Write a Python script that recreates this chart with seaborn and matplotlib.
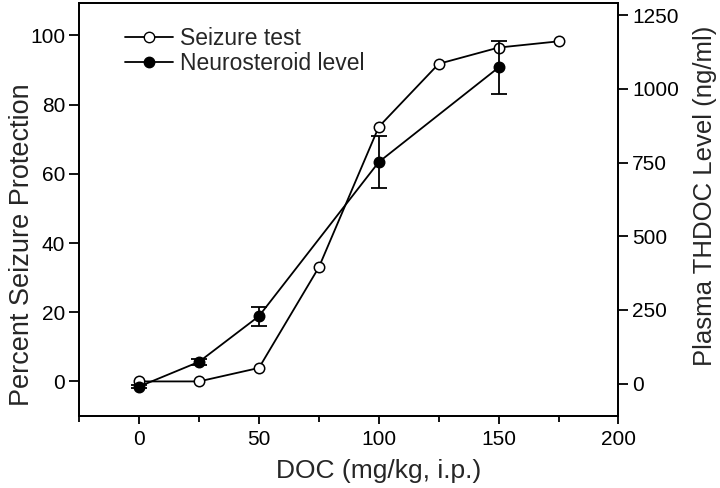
import matplotlib
matplotlib.use("Agg")
import matplotlib.pyplot as plt
import seaborn as sns
import pandas as pd
from matplotlib.lines import Line2D
from matplotlib.ticker import MultipleLocator

sns.set_style("ticks")
plt.rcParams['font.family'] = ['Liberation Sans', 'DejaVu Sans']

# Data
seizure_dose = [0, 25, 50, 75, 100, 125, 150, 175]
seizure_protection = [0, 0, 3.9, 33, 73.6, 91.8, 96.5, 98.3]

steroid_dose = [0, 25, 50, 100, 150]
steroid_level = [-10, 74, 229, 752, 1073]
steroid_err = [4, 10, 32, 88, 91]

fig = plt.figure(figsize=(7.2, 4.88), dpi=100)
ax = fig.add_axes([0.110, 0.1475, 0.749, 0.8465])
ax2 = ax.twinx()

df1 = pd.DataFrame({"dose": seizure_dose, "val": seizure_protection})
df2 = pd.DataFrame({"dose": steroid_dose, "val": steroid_level})

sns.lineplot(data=df1, x="dose", y="val", ax=ax, color="black", lw=1.3,
             marker="o", markersize=7.5, markerfacecolor="white",
             markeredgecolor="black", markeredgewidth=1.1)
ax2.errorbar(steroid_dose, steroid_level, yerr=steroid_err, fmt="none",
             ecolor="black", elinewidth=1.3, capsize=6, capthick=1.3)
sns.lineplot(data=df2, x="dose", y="val", ax=ax2, color="black", lw=1.3,
             marker="o", markersize=7.5, markerfacecolor="black",
             markeredgecolor="black", markeredgewidth=1.1)

ax.set_xlim(-25, 200)
ax.set_ylim(-10, 109.4)
ax2.set_ylim(-110, 1292)

ax.set_xticks([0, 50, 100, 150, 200])
ax.xaxis.set_minor_locator(MultipleLocator(25))
ax.set_yticks([0, 20, 40, 60, 80, 100])
ax2.set_yticks([0, 250, 500, 750, 1000, 1250])

for a in (ax, ax2):
    for s in a.spines.values():
        s.set_visible(True)
        s.set_linewidth(1.3)
        s.set_color("black")
    a.tick_params(which="major", direction="out", length=7, width=1.3,
                  labelsize=15, color="black", labelcolor="black", pad=3)
    a.tick_params(which="minor", direction="out", length=4, width=1.3,
                  color="black")
ax.tick_params(axis="x", which="major", length=6, pad=4)

ax.set_xlabel("DOC (mg/kg, i.p.)", fontsize=19)
ax.set_ylabel("Percent Seizure Protection", fontsize=19.5)
ax2.set_ylabel("Plasma THDOC Level (ng/ml)", fontsize=18.5)
ax.xaxis.set_label_coords(0.555, -0.104)
ax.yaxis.set_label_coords(-0.0816, 0.414)
ax2.yaxis.set_label_coords(1.139, 0.533)

handles = [
    Line2D([], [], color="black", lw=1.3, marker="o", markersize=7.5,
           markerfacecolor="white", markeredgecolor="black"),
    Line2D([], [], color="black", lw=1.3, marker="o", markersize=7.5,
           markerfacecolor="black", markeredgecolor="black"),
]
ax.legend(handles, ["Seizure test", "Neurosteroid level"], loc="upper left",
          bbox_to_anchor=(0.06, 0.975), frameon=False, fontsize=16.5,
          handlelength=2.1, handletextpad=0.3, labelspacing=0.1,
          borderaxespad=0.2)

fig.savefig("out.png", dpi=100)
